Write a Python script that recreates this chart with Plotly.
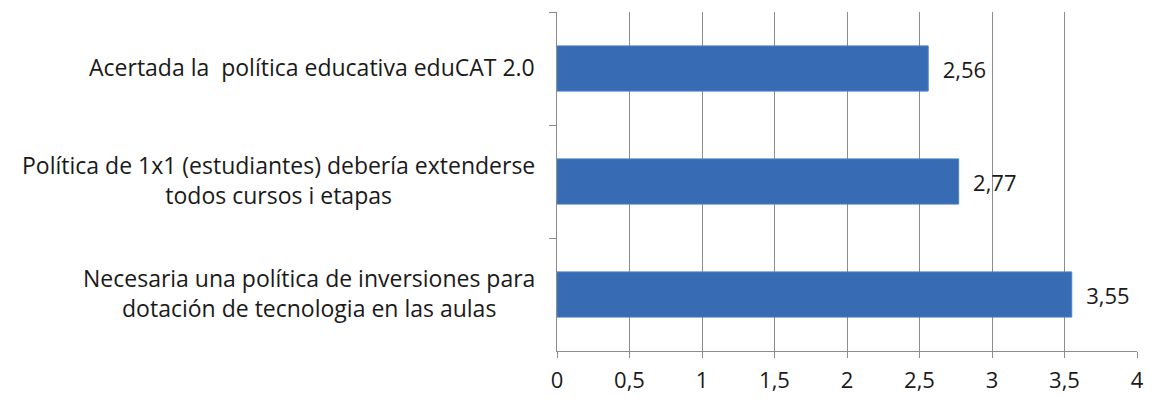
import plotly.graph_objects as go

categories = [
    "Acertada la  política educativa eduCAT 2.0",
    "Política de 1x1 (estudiantes) debería extenderse<br>todos cursos i etapas",
    "Necesaria una política de inversiones para<br>dotación de tecnologia en las aulas",
]
values = [2.56, 2.77, 3.55]
tick_vals = [0, 0.5, 1, 1.5, 2, 2.5, 3, 3.5, 4]
tick_text = ["0", "0,5", "1", "1,5", "2", "2,5", "3", "3,5", "4"]

FONT = "Open Sans, sans-serif"
TXT = "#1a1a1a"
AX = "#8c8c8c"

fig = go.Figure()
fig.add_trace(go.Bar(
    x=values,
    y=categories,
    orientation="h",
    width=0.4,
    marker=dict(color="#376BB3", line=dict(color="#4A80C9", width=1)),
    text=["  " + f"{v:.2f}".replace(".", ",") for v in values],
    textposition="outside",
    textfont=dict(family=FONT, size=22, color=TXT),
    cliponaxis=False,
    showlegend=False,
))

for c in categories:
    fig.add_annotation(
        x=0, xref="paper", y=c, yref="y",
        text=c, showarrow=False, xanchor="right", yanchor="middle",
        xshift=-20, yshift=2, align="center",
        font=dict(family=FONT, size=23, color=TXT),
    )

fig.update_layout(
    width=1156, height=412,
    margin=dict(l=549, r=27, t=4, b=69, autoexpand=False),
    plot_bgcolor="white", paper_bgcolor="white",
)
fig.update_xaxes(
    range=[0, 4], tickvals=tick_vals, ticktext=tick_text,
    showgrid=True, gridcolor=AX, gridwidth=1,
    showline=True, linecolor=AX, linewidth=1,
    ticks="outside", ticklen=6, tickcolor=AX,
    tickfont=dict(family=FONT, size=22, color=TXT),
    ticklabelstandoff=4,
    zeroline=False, automargin=False,
)
fig.update_yaxes(
    autorange="reversed", showticklabels=False,
    showline=True, linecolor=AX, linewidth=1,
    ticks="outside", ticklen=7, tickcolor=AX, tickson="boundaries",
    showgrid=False, automargin=False,
)

fig.write_html("out.html")
